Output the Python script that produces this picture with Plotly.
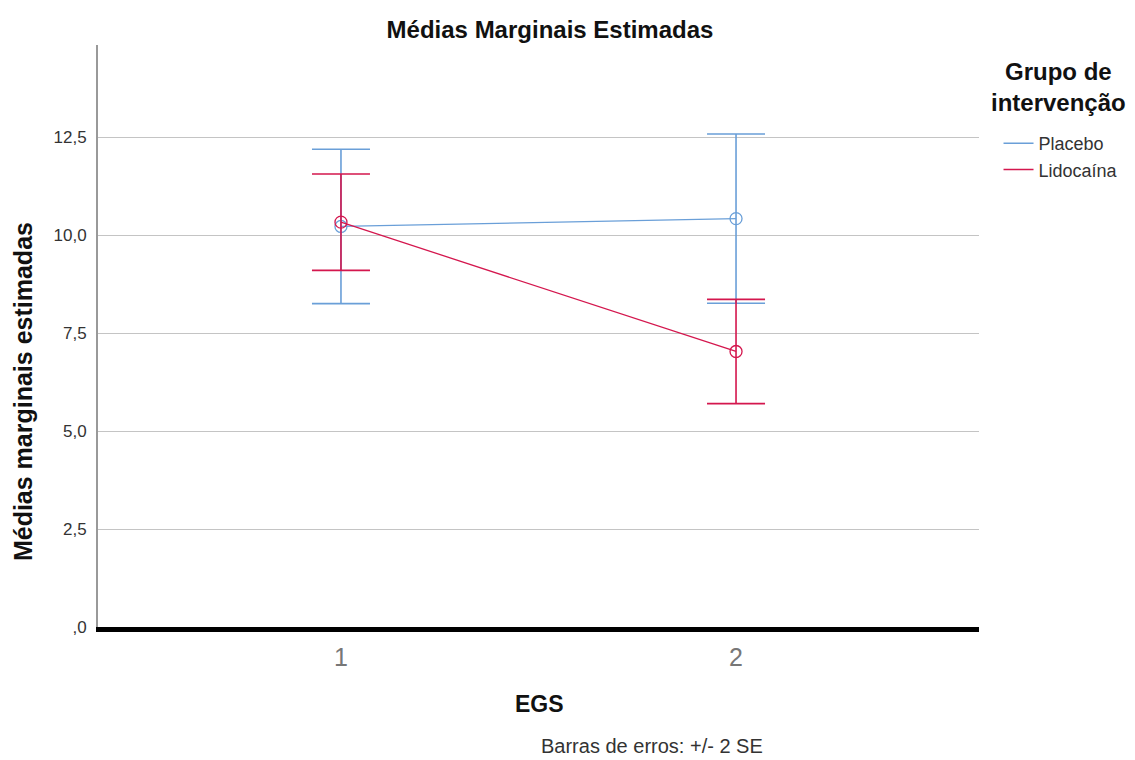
import plotly.graph_objects as go

egs = [1, 2]
placebo_mean = [10.22, 10.42]
placebo_err = [1.97, 2.16]
lido_mean = [10.33, 7.03]
lido_err = [1.23, 1.33]
series_names = ["Placebo", "Lidocaína"]
ytick_vals = [0, 2.5, 5.0, 7.5, 10.0, 12.5]
ytick_text = [",0", "2,5", "5,0", "7,5", "10,0", "12,5"]

blue = "#6a9fd8"
red = "#d4174e"
font = "Liberation Sans, Arial, sans-serif"

fig = go.Figure()
for name, mean, err, col in [(series_names[0], placebo_mean, placebo_err, blue),
                             (series_names[1], lido_mean, lido_err, red)]:
    fig.add_trace(go.Scatter(
        x=egs, y=mean, mode="lines+markers", name=name, showlegend=False,
        line=dict(color=col, width=1.3),
        marker=dict(symbol="circle-open", size=12, color=col, line=dict(width=1.3)),
        error_y=dict(type="data", array=err, visible=True, color=col, thickness=1.6, width=29),
    ))
for name, col in [(series_names[0], blue), (series_names[1], red)]:
    fig.add_trace(go.Scatter(x=[None], y=[None], mode="lines", name=name,
                             line=dict(color=col, width=1.5)))

fig.update_layout(
    width=1135, height=760,
    margin=dict(l=98, r=155, t=45, b=133),
    plot_bgcolor="white", paper_bgcolor="white",
    font=dict(family=font, color="#222"),
    title=dict(text="<b>Médias Marginais Estimadas</b>", x=550/1135, xanchor="center",
               y=1-30/760, yanchor="middle", font=dict(size=24, color="#111")),
    xaxis=dict(range=[0.385, 2.615], tickvals=egs, ticktext=["1", "2"],
               tickfont=dict(size=25, color="#777"), showgrid=False, zeroline=False,
               showline=True, linecolor="black", linewidth=5, ticks="", ticklabelstandoff=4),
    yaxis=dict(range=[0, 14.85], tickvals=ytick_vals, ticktext=ytick_text,
               tickfont=dict(size=17, color="#333"), showgrid=True, gridcolor="#c4c4c4",
               gridwidth=1.3, zeroline=False, showline=True, linecolor="#999", linewidth=2,
               ticks="", ticklabelstandoff=6),
    legend=dict(x=1.021, xanchor="left", y=(627-125)/582, yanchor="top",
                font=dict(size=18, color="#333"), bgcolor="rgba(0,0,0,0)",
                tracegroupgap=0, itemwidth=30),
    showlegend=True,
    annotations=[
        dict(text="<b>Grupo de<br>intervenção</b>", xref="paper", yref="paper",
             x=(1060-98)/882, y=(627-87)/582, xanchor="center", yanchor="middle", align="center",
             showarrow=False, font=dict(size=24, color="#111")),
        dict(text="<b>EGS</b>", xref="paper", yref="paper", x=(540-98)/882, y=(627-704)/582,
             xanchor="center", yanchor="middle", showarrow=False, font=dict(size=23, color="#111")),
        dict(text="<b>Médias marginais estimadas</b>", xref="paper", yref="paper",
             x=(23-98)/882, y=(627-392)/582, textangle=-90, xanchor="center", yanchor="middle",
             showarrow=False, font=dict(size=25, color="#111")),
        dict(text="Barras de erros: +/- 2 SE", xref="paper", yref="paper", x=(540-98)/882,
             y=(627-746)/582, xanchor="left", yanchor="middle", showarrow=False,
             font=dict(size=20, color="#333")),
    ],
)
fig.write_html("out.html", config={"displayModeBar": False},
               post_script="document.body.style.margin='0';")
